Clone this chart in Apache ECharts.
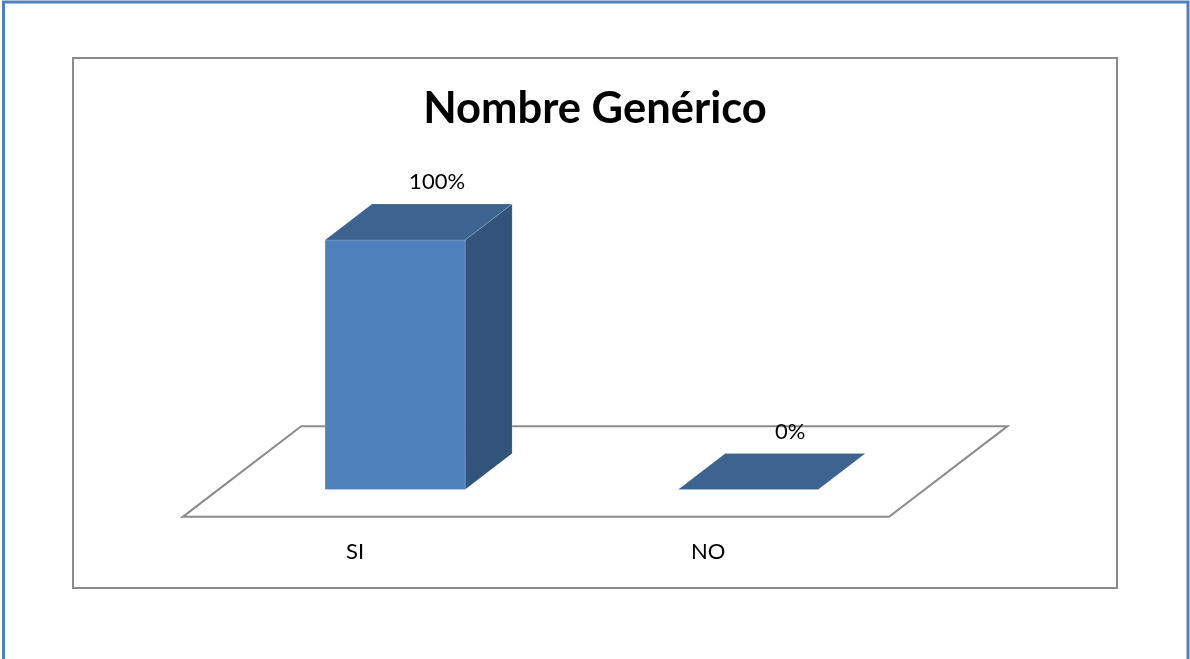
<!DOCTYPE html>
<html>
<head>
<meta charset="utf-8">
<title>Nombre Genérico</title>
<script src="https://cdn.jsdelivr.net/npm/echarts@6/dist/echarts.min.js"></script>
<style>
  html, body { margin: 0; padding: 0; background: #ffffff; }
  #chart { width: 1190px; height: 659px; }
</style>
</head>
<body>
<div id="chart"></div>
<script>
// Chart data
const categories = ['SI', 'NO'];
const shares = [1.00, 0.00];           // share of answers (1 = 100%)
const chartTitle = 'Nombre Genérico';

// 3D look: depth of each box along the receding axis
const DEPTH_X = 47;
const DEPTH_Y = -36;
const BAR_RATIO = 140 / 353;
const FONT = 'Lato, "Open Sans", sans-serif';

const COLOR_FRONT = '#4f81bd';
const COLOR_TOP = '#3d6391';
const COLOR_SIDE = '#32537a';

function pct(v) {
  return Math.round(v * 100) + '%';
}

// Floor plane below the boxes
function renderFloor(params, api) {
  const cs = params.coordSys;
  const yb = cs.y + cs.height;
  const f = -0.76, b = 1.76;
  const pts = [
    [cs.x + f * DEPTH_X, yb + f * DEPTH_Y],
    [cs.x + cs.width + f * DEPTH_X, yb + f * DEPTH_Y],
    [cs.x + cs.width + b * DEPTH_X, yb + b * DEPTH_Y],
    [cs.x + b * DEPTH_X, yb + b * DEPTH_Y]
  ];
  return {
    type: 'polygon',
    shape: { points: pts },
    style: { fill: '#ffffff', stroke: '#8c8c8c', lineWidth: 2 }
  };
}

// 3D box for each category
function renderBox(params, api) {
  const idx = api.value(0);
  const val = api.value(1);
  const base = api.coord([idx, 0]);
  const top = api.coord([idx, val]);
  const w = api.size([1, 0])[0] * BAR_RATIO;
  const x0 = base[0] - w / 2;
  const x1 = base[0] + w / 2;
  const yb = base[1];
  const yt = top[1];
  const children = [];
  if (yb - yt > 0.5) {
    children.push({
      type: 'polygon',
      shape: { points: [[x1, yt], [x1, yb], [x1 + DEPTH_X, yb + DEPTH_Y], [x1 + DEPTH_X, yt + DEPTH_Y]] },
      style: { fill: COLOR_SIDE, stroke: 'rgba(255,255,255,0.25)', lineWidth: 0.6 }
    });
    children.push({
      type: 'rect',
      shape: { x: x0, y: yt, width: w, height: yb - yt },
      style: { fill: COLOR_FRONT, stroke: 'rgba(255,255,255,0.25)', lineWidth: 0.6 }
    });
  }
  children.push({
    type: 'polygon',
    shape: { points: [[x0, yt], [x1, yt], [x1 + DEPTH_X, yt + DEPTH_Y], [x0 + DEPTH_X, yt + DEPTH_Y]] },
    style: { fill: COLOR_TOP, stroke: 'rgba(255,255,255,0.25)', lineWidth: 0.6 }
  });
  children.push({
    type: 'text',
    style: {
      text: pct(val),
      x: base[0] + 42,
      y: yt - 58,
      align: 'center',
      verticalAlign: 'middle',
      fill: '#000000',
      font: '22px ' + FONT
    }
  });
  return { type: 'group', children: children };
}

const chart = echarts.init(document.getElementById('chart'), null, { renderer: 'canvas' });

chart.setOption({
  backgroundColor: '#ffffff',
  animation: false,
  title: {
    text: chartTitle,
    left: 'center',
    top: 82,
    textStyle: { fontFamily: FONT, fontWeight: 'bold', fontSize: 43.5, color: '#000000' }
  },
  graphic: [
    {
      type: 'rect',
      silent: true,
      z: -10,
      shape: { x: 3.5, y: 2, width: 1184.5, height: 720 },
      style: { fill: 'none', stroke: '#4f81bd', lineWidth: 3 }
    },
    {
      type: 'rect',
      silent: true,
      z: -10,
      shape: { x: 73, y: 58, width: 1044, height: 530 },
      style: { fill: 'none', stroke: '#8a8a8a', lineWidth: 2 }
    }
  ],
  grid: { left: 218.5, right: 265.2, top: 240, bottom: 169.5 },
  xAxis: {
    type: 'category',
    data: categories,
    axisLine: { show: false },
    axisTick: { show: false },
    axisLabel: {
      margin: 51,
      padding: [0, 80, 0, 0],
      fontFamily: FONT,
      fontSize: 22,
      color: '#000000'
    }
  },
  yAxis: {
    type: 'value',
    min: 0,
    max: 1,
    show: false
  },
  series: [
    {
      type: 'custom',
      name: 'floor',
      renderItem: renderFloor,
      data: [[0]],
      clip: false,
      silent: true,
      z: 1
    },
    {
      type: 'custom',
      name: chartTitle,
      renderItem: renderBox,
      encode: { x: 0, y: 1 },
      data: categories.map((c, i) => [i, shares[i]]),
      clip: false,
      z: 2
    }
  ]
});
</script>
</body>
</html>
